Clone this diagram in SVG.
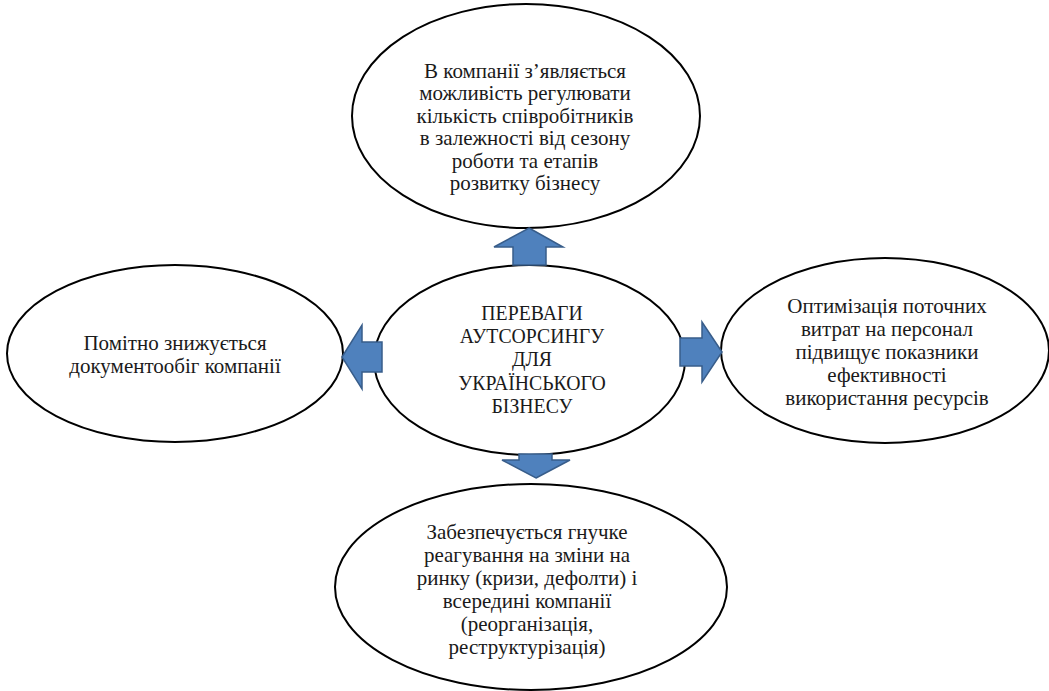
<svg xmlns="http://www.w3.org/2000/svg" width="1049" height="691" viewBox="0 0 1049 691">
<style>
.node ellipse{fill:#fff;stroke:#000;stroke-width:2}
.arrow{fill:#4f81bd;stroke:#385d8a;stroke-width:1.5;stroke-linejoin:miter}
</style>
<rect width="1049" height="691" fill="#fff"/>
<g id="node-top" class="node" font-family="Liberation Serif, serif" font-size="21" fill="#1a1a1a" text-anchor="middle">
<ellipse cx="526" cy="116" rx="174" ry="112"/>
<text x="525" y="77.5">В компанії з’являється</text>
<text x="525" y="100">можливість регулювати</text>
<text x="525" y="122.5">кількість співробітників</text>
<text x="525" y="145">в залежності від сезону</text>
<text x="525" y="167.5">роботи та етапів</text>
<text x="525" y="190">розвитку бізнесу</text>
</g>
<g id="node-left" class="node" font-family="Liberation Serif, serif" font-size="21" fill="#1a1a1a" text-anchor="middle">
<ellipse cx="175" cy="353.5" rx="168" ry="88.5"/>
<text x="175" y="350">Помітно знижується</text>
<text x="175" y="373">документообіг компанії</text>
</g>
<g id="node-right" class="node" font-family="Liberation Serif, serif" font-size="21" fill="#1a1a1a" text-anchor="middle">
<ellipse cx="885" cy="350.5" rx="164" ry="92.5"/>
<text x="887" y="313">Оптимізація поточних</text>
<text x="887" y="336">витрат на персонал</text>
<text x="887" y="359">підвищує показники</text>
<text x="887" y="382">ефективності</text>
<text x="887" y="405">використання ресурсів</text>
</g>
<g id="node-bottom" class="node" font-family="Liberation Serif, serif" font-size="21" fill="#1a1a1a" text-anchor="middle">
<ellipse cx="531" cy="587" rx="196" ry="103"/>
<text x="527" y="539">Забезпечується гнучке</text>
<text x="527" y="562">реагування на зміни на</text>
<text x="527" y="585">ринку (кризи, дефолти) і</text>
<text x="527" y="608">всередині компанії</text>
<text x="527" y="631">(реорганізація,</text>
<text x="527" y="654">реструктурізація)</text>
</g>
<g id="node-center" class="node" font-family="Liberation Serif, serif" font-size="21.5" fill="#1a1a1a" text-anchor="middle">
<ellipse cx="529.5" cy="360" rx="155.5" ry="95"/>
<g transform="translate(532,0) scale(0.92,1)">
<text x="0" y="320">ПЕРЕВАГИ</text>
<text x="0" y="343.2">АУТСОРСИНГУ</text>
<text x="0" y="366.4">ДЛЯ</text>
<text x="0" y="389.6">УКРАЇНСЬКОГО</text>
<text x="0" y="412.8">БІЗНЕСУ</text>
</g>
</g>
<g id="connectors">
<polygon class="arrow" points="529,228 563,247 546,247 546,265 513,265 513,247 494,247"/>
<polygon class="arrow" points="342,357 362,325 362,342 382,342 382,372 362,372 362,389"/>
<polygon class="arrow" points="722,352 702,322 702,338 680,338 680,366 702,366 702,382"/>
<polygon class="arrow" points="536,478 570,460 552,460 552,454 519,454 519,460 502,460"/>
</g>
</svg>
